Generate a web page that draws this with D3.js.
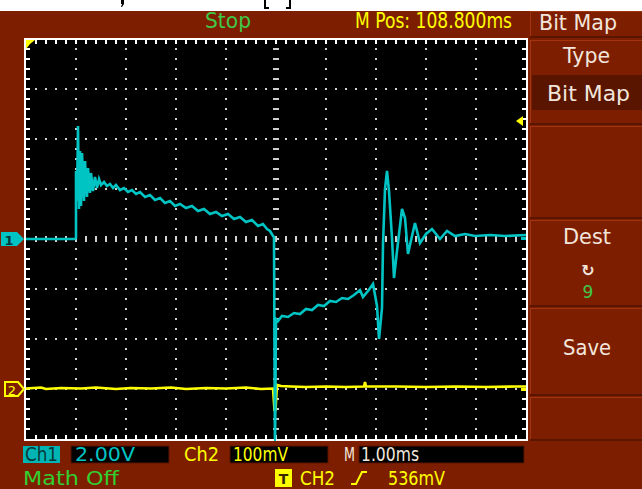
<!DOCTYPE html>
<html><head><meta charset="utf-8">
<script src="https://cdn.jsdelivr.net/npm/d3@7"></script>
<style>html,body{margin:0;padding:0;background:#fff;}svg{display:block;}</style>
</head><body>
<script>
// ---- data ----
// Channel 1 trace: time (ms, relative to screen centre) and voltage (V)
const ch1Time = [-5.00,-4.02,-4.00,-4.00,-3.98,-3.96,-3.94,-3.92,-3.90,-3.88,-3.84,-3.82,-3.78,-3.76,-3.72,-3.70,-3.66,-3.62,-3.58,-3.54,
  -3.50,-3.44,-3.38,-3.32,-3.26,-3.20,-3.12,-3.04,-2.96,-2.88,-2.80,-2.72,-2.62,-2.52,-2.42,-2.32,-2.22,-2.12,-2.02,-1.92,
  -1.80,-1.68,-1.56,-1.44,-1.32,-1.20,-1.08,-0.96,-0.84,-0.72,-0.60,-0.48,-0.36,-0.26,-0.18,-0.12,-0.06,-0.04,-0.02,0.00,
  0.04,0.12,0.24,0.36,0.48,0.60,0.72,0.84,0.96,1.08,1.20,1.32,1.44,1.56,1.68,1.74,1.84,1.94,2.02,2.06,
  2.12,2.14,2.18,2.22,2.26,2.32,2.36,2.42,2.52,2.58,2.64,2.72,2.78,2.88,3.00,3.12,3.28,3.42,3.58,3.78,
  3.98,4.28,4.58,5.00];
const ch1Volt = [0.00,0.00,0.04,2.72,1.52,4.52,1.20,3.52,1.32,3.44,1.52,3.12,1.68,2.84,1.84,2.64,1.92,2.48,2.04,2.40,
  2.16,2.28,2.12,2.20,2.04,2.16,1.96,2.04,1.88,1.96,1.80,1.88,1.68,1.76,1.56,1.64,1.44,1.52,1.32,1.40,
  1.24,1.32,1.12,1.20,1.00,1.08,0.92,1.00,0.80,0.88,0.68,0.76,0.52,0.60,0.40,0.32,0.12,0.08,-8.60,-3.20,
  -3.28,-3.08,-3.12,-2.96,-3.00,-2.80,-2.84,-2.64,-2.68,-2.48,-2.52,-2.36,-2.40,-2.24,-2.04,-2.32,-2.08,-1.80,-2.68,-4.00,
  -2.76,-0.20,2.00,2.72,1.92,0.04,-1.56,-0.48,1.20,0.84,-0.60,0.12,0.64,-0.16,0.20,0.40,0.00,0.32,0.12,0.20,
  0.12,0.16,0.12,0.16];
// Channel 2 trace: time (ms) and voltage (mV)
const ch2Time = [-5.00,-4.70,-4.60,-4.30,-3.90,-3.60,-3.20,-2.90,-2.50,-2.10,-1.80,-1.40,-1.00,-0.60,-0.30,-0.06,-0.03,-0.01,0.02,0.10,
  0.30,0.60,1.00,1.40,1.76,1.78,1.80,2.40,3.00,3.60,4.20,4.80,5.00];
const ch2Volt = [1,3,0,2,1,3,0,2,1,3,0,2,1,3,0,1,-42,-42,8,6,
  5,4,5,4,5,14,5,5,4,5,4,5,5];
// Settings / readouts
const timeDivs = [-5,-4,-3,-2,-1,0,1,2,3,4,5];      // ms (1.00 ms/div)
const ch1VoltDivs = [-8,-6,-4,-2,0,2,4,6,8];       // V  (2.00 V/div)
const ch2Domain = [-100, 700];                      // mV (100 mV/div, marker 3 div below centre)
const triggerLevel = 536;                           // mV
const topLabels = {status:"Stop", mpos:"M Pos: 108.800ms", menu:"Bit Map"};
const menuItems = ["Type","Bit Map","Dest","9","Save"];
const bottomLabels = ["Ch1","2.00V","Ch2","100mV","M","1.00ms","Math Off","CH2","536mV"];

// ---- drawing ----
const W=642,H=489;
const BG="#7e1e00", DARK="#5a1500", LIGHT="#a23410";
const CYAN="#00c4c4", YEL="#ffff00", GRN="#40c848", TXT="#f2e6dc";
const FONT="'DejaVu Sans', sans-serif";

const svg=d3.select("body").append("svg").attr("width",W).attr("height",H);
svg.append("rect").attr("width",W).attr("height",H).attr("fill",BG);
svg.append("rect").attr("width",W).attr("height",11).attr("fill","#fff");
svg.append("path").attr("d","M121,0 h3 v4 l-2,3 h-1 l1,-3 h-1 Z").attr("fill","#000");
svg.append("path").attr("d","M264,0 h2 v7 h3 v2 h-5 Z M289,0 h2 v9 h-5 v-2 h3 Z").attr("fill","#000");

const x=d3.scaleLinear().domain([-5,5]).range([26,526]);
const y1=d3.scaleLinear().domain([-8,8]).range([439,39]);
const y2=d3.scaleLinear().domain(ch2Domain).range([439,39]);

svg.append("rect").attr("x",26).attr("y",40).attr("width",500).attr("height",399).attr("fill","#000");

const g=svg.append("g");
const GRIDC="#d0d0d0";
const stepsY=d3.range(1,40).map(k=>39+10*k);
const stepsX=d3.range(1,50).map(k=>26+10*k);
timeDivs.filter(t=>t!==0 && Math.abs(t)<5).forEach(t=>{
  g.selectAll(null).data(stepsY).enter().append("rect")
   .attr("x",x(t)-1).attr("y",d=>d-1).attr("width",2).attr("height",2).attr("fill",GRIDC);
});
ch1VoltDivs.filter(v=>v!==0 && Math.abs(v)<8).forEach(v=>{
  g.selectAll(null).data(stepsX).enter().append("rect")
   .attr("x",d=>d-1).attr("y",y1(v)-1).attr("width",2).attr("height",2).attr("fill",GRIDC);
});
g.selectAll(null).data(stepsY).enter().append("rect")
  .attr("x",x(0)-3).attr("y",d=>d-1).attr("width",6).attr("height",2).attr("fill",GRIDC);
g.selectAll(null).data(stepsX).enter().append("rect")
  .attr("x",d=>d-1).attr("y",y1(0)-3).attr("width",2).attr("height",6).attr("fill",GRIDC);
g.selectAll(null).data(stepsX).enter().append("rect")
  .attr("x",d=>d-1).attr("y",40).attr("width",2).attr("height",4).attr("fill","#fff");
g.selectAll(null).data(stepsX).enter().append("rect")
  .attr("x",d=>d-1).attr("y",435).attr("width",2).attr("height",4).attr("fill","#fff");
g.selectAll(null).data(stepsY).enter().append("rect")
  .attr("x",26).attr("y",d=>d-1).attr("width",4).attr("height",2).attr("fill","#fff");
g.selectAll(null).data(stepsY).enter().append("rect")
  .attr("x",522).attr("y",d=>d-1).attr("width",4).attr("height",2).attr("fill","#fff");

svg.append("clipPath").attr("id","scr").append("rect").attr("x",26).attr("y",40).attr("width",500).attr("height",399);

const line1=d3.line().x((d,i)=>x(ch1Time[i])).y((d,i)=>y1(ch1Volt[i]));
const line2=d3.line().x((d,i)=>x(ch2Time[i])).y((d,i)=>y2(ch2Volt[i]));
const tr=svg.append("g").attr("clip-path","url(#scr)");
tr.append("path").attr("d",line2(ch2Time)).attr("fill","none").attr("stroke",YEL).attr("stroke-width",2.6).attr("stroke-linejoin","miter");
tr.append("path").attr("d",line1(ch1Time)).attr("fill","none").attr("stroke",CYAN).attr("stroke-width",2.6).attr("stroke-linejoin","miter");

svg.append("rect").attr("x",25).attr("y",39).attr("width",502).attr("height",401)
  .attr("fill","none").attr("stroke","#fff").attr("stroke-width",2);
svg.append("rect").attr("x",x(-0.02)-1).attr("y",437).attr("width",2).attr("height",4).attr("fill",CYAN);

svg.append("path").attr("d","M26,40 L35,40 L30,44 L26,49 Z").attr("fill",YEL);
const ty=y2(triggerLevel);
svg.append("path").attr("d",`M516,${ty} L523,${ty-5} L523,${ty+5} Z`).attr("fill",YEL);
svg.append("rect").attr("x",521).attr("y",y1(0)-2).attr("width",5).attr("height",3).attr("fill",CYAN);
svg.append("rect").attr("x",521).attr("y",y2(0)-1).attr("width",5).attr("height",3).attr("fill",YEL);
const m1=y1(0);
svg.append("path").attr("d",`M1,${m1-7} L17,${m1-7} L24,${m1} L17,${m1+7} L1,${m1+7} Z`).attr("fill",CYAN);
svg.append("text").attr("x",9).attr("y",m1+5.5).attr("text-anchor","middle").attr("font-family",FONT).attr("font-weight","bold")
  .attr("font-size",13).attr("fill","#063a3a").text("1");
const m2=y2(0);
svg.append("path").attr("d",`M5,${m2-7} L18,${m2-7} L24,${m2} L18,${m2+7} L5,${m2+7} Z`).attr("fill","none").attr("stroke",YEL).attr("stroke-width",2);
svg.append("text").attr("x",12).attr("y",m2+5.5).attr("text-anchor","middle").attr("font-family",FONT)
  .attr("font-size",13).attr("fill",YEL).text("2");

function txt(s,xx,yy,w,col,size,anchor){
  const t=svg.append("text").attr("x",xx).attr("y",yy).attr("font-family",FONT).attr("font-size",size||20)
    .attr("fill",col).text(s);
  if(anchor) t.attr("text-anchor",anchor);
  if(w) t.attr("textLength",w).attr("lengthAdjust","spacingAndGlyphs");
  return t;
}
txt(topLabels.status,205,28,46,GRN,21);
txt(topLabels.mpos,355,28,157,YEL,21);
function box(y0,y1_){
  svg.append("rect").attr("x",530).attr("y",y0).attr("width",112).attr("height",y1_-y0).attr("fill",BG);
  svg.append("line").attr("x1",530.5).attr("x2",530.5).attr("y1",y0).attr("y2",y1_).attr("stroke",LIGHT).attr("stroke-width",1);
  svg.append("line").attr("x1",530).attr("x2",642).attr("y1",y0+0.5).attr("y2",y0+0.5).attr("stroke",LIGHT).attr("stroke-width",1);
  svg.append("line").attr("x1",530).attr("x2",642).attr("y1",y1_-1).attr("y2",y1_-1).attr("stroke",DARK).attr("stroke-width",2);
}
box(11,38);
txt(topLabels.menu,539,30,78,TXT,21);
box(40,125); box(126,219); box(220,307); box(308,396); box(397,441);
svg.append("rect").attr("x",532).attr("y",75).attr("width",110).attr("height",35).attr("fill",DARK);
txt(menuItems[0],563,63,47,TXT,21);
txt(menuItems[1],547,101,83,TXT,21);
txt(menuItems[2],563,244,48,TXT,21);
svg.append("text").attr("x",588).attr("y",276).attr("text-anchor","middle").attr("font-family",FONT).attr("font-size",16)
  .attr("font-weight","bold").attr("fill",TXT).text("↻");
txt(menuItems[3],588,298,null,GRN,17,"middle");
txt(menuItems[4],563,355,48,TXT,21);

svg.append("rect").attr("x",23).attr("y",446).attr("width",37).attr("height",17).attr("fill","#00b4b4");
txt(bottomLabels[0],25,461,33,"#063838",19);
svg.append("rect").attr("x",71).attr("y",446).attr("width",98).attr("height",17).attr("fill","#000").attr("stroke",DARK);
txt(bottomLabels[1],75,461,60,CYAN,19);
txt(bottomLabels[2],184,461,35,YEL,19);
svg.append("rect").attr("x",230).attr("y",446).attr("width",98).attr("height",17).attr("fill","#000").attr("stroke",DARK);
txt(bottomLabels[3],233,461,55,YEL,19);
txt(bottomLabels[4],344,461,11,TXT,19);
svg.append("rect").attr("x",359).attr("y",446).attr("width",165).attr("height",17).attr("fill","#000").attr("stroke",DARK);
txt(bottomLabels[5],361,461,58,TXT,19);
txt(bottomLabels[6],23,485,96,"#30d030",19);
svg.append("rect").attr("x",275).attr("y",469).attr("width",17).attr("height",18).attr("fill",YEL);
txt("T",283.5,484,null,"#3a2a00",14,"middle").attr("font-weight","bold");
txt(bottomLabels[7],300,485,35,YEL,19);
svg.append("path").attr("d","M351,484 L356,484 L362,472 L367,472").attr("fill","none").attr("stroke",YEL).attr("stroke-width",2);
txt(bottomLabels[8],388,485,57,YEL,19);
</script>
</body></html>
